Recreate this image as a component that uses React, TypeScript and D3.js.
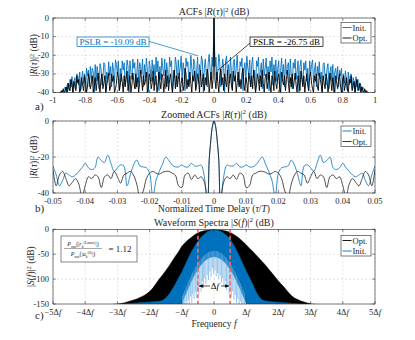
import React from "react";
import * as d3 from "d3";

const FONT = "'Liberation Serif', 'Times New Roman', serif";
const BLUE = "#0072BD";
const SPIKE_BLUE = "#6AAEE3";
const AXIS = "#262626";
const GRID = "#c8c8c8";
const RED = "#F26B6B";

// (a) ACF sidelobes (dB), one half of the symmetric ACF, tau = 0, 0.006, ... 0.96
const acfInit = [0,
  -26, -21, -33, -28, -19.5, -24, -37, -30, -22, -27, -40, -23, -20.5, -31, -25, -35,
  -21, -29, -38, -24, -22, -33, -27, -20, -31, -36, -23.5, -26, -21.5, -39, -28, -24,
  -34, -20.5, -27, -30, -22.5, -37, -25, -21, -32, -28, -40, -23, -26, -21, -35, -29,
  -24, -38, -22, -31, -27, -21.5, -33, -26, -39, -23, -29, -21, -36, -25, -30, -22.5,
  -34, -27, -23, -40, -28, -21.5, -32, -25, -37, -22, -30, -26, -24, -35, -22, -31,
  -38, -24, -27, -22, -33, -29, -23, -40, -26, -22.5, -31, -36, -24, -28, -23, -34,
  -27, -39, -23, -30, -25, -22.5, -35, -28, -24, -37, -26, -31, -23.5, -33, -29, -40,
  -25, -24, -32, -36, -27, -24.5, -38, -30, -26, -34, -25, -40, -29, -27, -33, -26,
  -37, -28, -31, -27, -40, -30, -35, -28.5, -33, -39, -29, -36, -31, -30, -38, -32,
  -34, -40, -31.5, -37, -33, -39, -35, -36, -40, -37, -38, -40, -39, -40, -40, -40];
const acfOpt = [0,
  -33, -38, -29, -35, -40, -31, -27.5, -36, -32, -39, -30, -34, -37, -28, -40, -33,
  -30, -36, -39, -28.5, -34, -31, -40, -35, -29, -37, -33, -38, -30, -27, -36, -39,
  -32, -35, -40, -29.5, -33, -37, -31, -38, -28, -34, -40, -36, -30, -33, -39, -31,
  -37, -28, -35, -40, -32, -30, -38, -34, -29, -36, -40, -31, -33, -39, -28.5, -35,
  -38, -32, -30, -37, -40, -29, -34, -36, -31, -39, -33, -28, -35, -40, -32, -37,
  -30, -38, -34, -29.5, -36, -40, -31, -35, -39, -28.5, -33, -37, -31, -40, -34, -30,
  -36, -39, -32, -29, -35, -38, -40, -31, -34, -30, -37, -39, -29.5, -33, -36, -40,
  -31, -35, -38, -30, -33, -40, -36, -29.5, -34, -39, -32, -37, -40, -31, -35, -38,
  -33, -30, -37, -40, -34, -31, -39, -36, -32, -38, -40, -33, -35, -31, -39, -37,
  -34, -40, -36, -33, -39, -38, -35, -40, -37, -39, -40, -38, -40, -39, -40, -40];
const acfTau = acfInit.map((_, i) => i * 0.006);

// (b) zoomed ACF (dB), one half, tau = 0 ... 0.05
const zoomTau = [0, 0.0005, 0.001, 0.0015, 0.002, ...d3.range(3, 51).map((k) => k / 1000)];
const zoomInit = [0, -3, -11, -22, -45,
  -31, -24.5, -25, -25, -23.5, -25.5, -25.5, -24.4, -25.5, -25.5, -24.4, -22, -20, -24, -28, -33,
  -42, -29, -26, -25.5, -25, -21.7, -24.5, -30, -36, -25, -24.4, -26, -28, -23.5, -19, -23,
  -22, -20, -26, -27, -26, -23.5, -26, -28, -30, -31, -30, -29, -33, -36, -30, -25];
const zoomOpt = [0, -3, -11, -22, -45,
  -34, -31, -32, -30, -32.5, -29, -30, -37, -36, -30, -29, -28, -28, -28.5, -29.5, -29,
  -28, -29, -32, -39, -42, -35, -30, -28, -29, -30, -34.5, -31, -28, -32, -30, -31,
  -37, -31, -30, -32, -31, -36, -42, -35, -32, -34, -36, -32, -28, -30, -36, -27];

// (c) spectra (dB), f = -3.2Δf ... 3.2Δf in steps of 0.1Δf
const freq = d3.range(65).map((i) => (i - 32) / 10);
const optUpper = [-151, -150.5, -150, -149, -148, -146, -144, -142, -140, -137, -134, -130, -125, -118, -109, -100,
  -92, -83, -74, -64, -54, -45, -34, -27, -21, -16, -11, -7, -4.5, -3, -2, -1,
  -0.5,
  -1, -1.5, -2.5, -4, -6, -10, -14, -19, -25, -31, -38, -44, -51, -58, -65, -72,
  -80, -88, -96, -104, -111, -118, -126, -133, -138, -141, -144, -146, -148, -149.5, -150.5, -151];
const optLower = [-152, -152, -152, -152, -152, -152, -152, -152, -152, -152, -152, -152, -152, -152, -152, -152,
  -152, -152, -152, -152, -152, -152, -135, -115, -97, -80, -62, -45, -36, -30, -25, -22,
  -20,
  -22, -25, -30, -36, -45, -62, -80, -97, -115, -135, -152, -152, -152, -152, -152, -152,
  -152, -152, -152, -152, -152, -152, -152, -152, -152, -152, -152, -152, -152, -152, -152, -152];
const initUpper = [-152, -151.5, -151, -150.5, -150, -149.5, -149, -148.5, -148, -147.5, -147, -146.5, -146, -145.5, -145, -144.5,
  -143, -138, -131, -121, -110, -98, -86, -72, -58, -45, -34, -24, -16, -10, -5, -2.5,
  -1.5,
  -2, -4, -8, -13, -20, -30, -42, -56, -70, -84, -97, -110, -125, -136, -142, -144,
  -145, -145.5, -146, -146.5, -147, -147.5, -148, -148.5, -149, -149.5, -150, -150.5, -151, -151.5, -152, -152];
const initLower = [-155, -155, -155, -155, -155, -155, -155, -155, -155, -155, -155, -155, -155, -155, -155, -155,
  -155, -155, -155, -155, -155, -155, -148, -133, -118, -104, -91, -80, -71, -64, -59, -56,
  -55,
  -56, -59, -64, -71, -80, -91, -104, -118, -133, -148, -155, -155, -155, -155, -155, -155,
  -155, -155, -155, -155, -155, -155, -155, -155, -155, -155, -155, -155, -155, -155, -155, -155];
// deep notches of the Init. spectrum
const spikeF = [-0.98, -0.95, -0.91, -0.87, -0.84, -0.8, -0.77, -0.73, -0.69, -0.66, -0.62, -0.58, -0.55, -0.51, -0.47,
  -0.44, -0.4, -0.36, -0.33, -0.29, -0.25, -0.21, -0.17, -0.13, -0.09, -0.05, -0.01, 0.03, 0.07, 0.11, 0.15, 0.19,
  0.23, 0.27, 0.31, 0.35, 0.39, 0.43, 0.47, 0.5, 0.54, 0.58, 0.62, 0.66, 0.7, 0.74, 0.78, 0.82, 0.86, 0.9, 0.94];
const spikeDb = [-150, -150, -150, -145, -150, -142, -150, -135, -148, -130, -140, -125, -138, -118, -130,
  -112, -125, -105, -118, -98, -110, -92, -102, -85, -96, -78, -90, -82, -95, -88, -100, -93,
  -108, -98, -115, -104, -122, -112, -130, -118, -136, -125, -142, -132, -148, -140, -150, -145, -150, -150, -150];

const ticksA = [-1, -0.8, -0.6, -0.4, -0.2, 0, 0.2, 0.4, 0.6, 0.8, 1];
const yTicksA = [-40, -30, -20, -10, 0];
const ticksB = [-0.05, -0.04, -0.03, -0.02, -0.01, 0, 0.01, 0.02, 0.03, 0.04, 0.05];
const yTicksB = [-40, -20, 0];
const ticksC = [-5, -4, -3, -2, -1, 0, 1, 2, 3, 4, 5];
const yTicksC = [-150, -100, -50, 0];

const mirror = (tau: number[], v: number[]) => {
  const pts: [number, number][] = [];
  for (let i = tau.length - 1; i > 0; i--) pts.push([-tau[i], v[i]]);
  for (let i = 0; i < tau.length; i++) pts.push([tau[i], v[i]]);
  return pts;
};

type Sc = d3.ScaleLinear<number, number>;

function Grid({ x, y, xt, yt }: { x: Sc; y: Sc; xt: number[]; yt: number[] }) {
  const [x0, x1] = x.range();
  const [yb, ytop] = y.range();
  return (
    <g stroke={GRID} strokeWidth={0.5} strokeDasharray="2,2">
      {xt.map((t) => <line key={"x" + t} x1={x(t)} x2={x(t)} y1={ytop} y2={yb} />)}
      {yt.map((t) => <line key={"y" + t} x1={x0} x2={x1} y1={y(t)} y2={y(t)} />)}
    </g>
  );
}

function Box({ x, y, xt, yt, xf, yf, dy = 10.5 }: {
  x: Sc; y: Sc; xt: number[]; yt: number[];
  xf: (v: number) => React.ReactNode; yf: (v: number) => React.ReactNode; dy?: number;
}) {
  const [x0, x1] = x.range();
  const [yb, ytop] = y.range();
  return (
    <g fill={AXIS}>
      <rect x={x0} y={ytop} width={x1 - x0} height={yb - ytop} fill="none" stroke={AXIS} strokeWidth={0.6} />
      {xt.map((t) => (
        <g key={"xt" + t}>
          <line x1={x(t)} x2={x(t)} y1={yb} y2={yb - 3} stroke={AXIS} strokeWidth={0.5} />
          <line x1={x(t)} x2={x(t)} y1={ytop} y2={ytop + 3} stroke={AXIS} strokeWidth={0.5} />
          <text x={x(t)} y={yb + dy} fontSize={8.5} textAnchor="middle">{xf(t)}</text>
        </g>
      ))}
      {yt.map((t) => (
        <g key={"yt" + t}>
          <line x1={x0} x2={x0 + 3} y1={y(t)} y2={y(t)} stroke={AXIS} strokeWidth={0.5} />
          <line x1={x1} x2={x1 - 3} y1={y(t)} y2={y(t)} stroke={AXIS} strokeWidth={0.5} />
          <text x={x0 - 4} y={y(t) + 2.5} fontSize={8.5} textAnchor="end">{yf(t)}</text>
        </g>
      ))}
    </g>
  );
}

function Legend({ x, y, items }: { x: number; y: number; items: { label: string; color: string }[] }) {
  return (
    <g fontSize={8.5}>
      <rect x={x} y={y} width={30} height={20.5} fill="white" stroke={AXIS} strokeWidth={0.6} />
      {items.map((it, i) => (
        <g key={it.label}>
          <line x1={x + 1.5} x2={x + 10.5} y1={y + 5 + i * 10.5} y2={y + 5 + i * 10.5} stroke={it.color} strokeWidth={0.9} />
          <text x={x + 11.5} y={y + 8 + i * 10.5} fill={AXIS}>{it.label}</text>
        </g>
      ))}
    </g>
  );
}

const R2 = (
  <>
    |<tspan fontStyle="italic">R</tspan>(<tspan fontStyle="italic">τ</tspan>)|<tspan dy={-3.5} fontSize="70%">2</tspan>
    <tspan dy={3.5}> (dB)</tspan>
  </>
);

const num = (v: number) => (v < 0 ? "-" : "") + Math.abs(v).toString();
const dfFmt = (v: number): React.ReactNode => {
  if (v === 0) return "0";
  const sign = v < 0 ? "\u2212" : "";
  const m = Math.abs(v);
  return (
    <>
      {sign}{m === 1 ? "" : m}Δ<tspan fontStyle="italic">f</tspan>
    </>
  );
};

export default function App() {
  const X0 = 53, X1 = 375;
  const xa = d3.scaleLinear().domain([-1, 1]).range([X0, X1]);
  const ya = d3.scaleLinear().domain([-40, 0]).range([92.5, 18]);
  const xb = d3.scaleLinear().domain([-0.05, 0.05]).range([X0, X1]);
  const yb = d3.scaleLinear().domain([-40, 0]).range([193, 121]);
  const xc = d3.scaleLinear().domain([-5, 5]).range([X0, X1]);
  const yc = d3.scaleLinear().domain([-150, 0]).range([304, 229.3]);

  const lineA = d3.line<[number, number]>().x((d) => xa(d[0])).y((d) => ya(d[1]));
  const lineB = d3.line<[number, number]>().x((d) => xb(d[0])).y((d) => yb(d[1])).curve(d3.curveCatmullRom.alpha(0.5));
  const bandC = (up: number[], lo: number[]) =>
    d3.area<number>().x((f) => xc(f)).y0((_, i) => yc(lo[i])).y1((_, i) => yc(up[i]))(freq) || "";
  const lowerInit = d3.scaleLinear().domain(freq).range(initLower);

  const clip = (id: string, x: Sc, y: Sc) => {
    const [x0, x1] = x.range();
    const [b, t] = y.range();
    return (
      <clipPath id={id}>
        <rect x={x0} y={t} width={x1 - x0} height={b - t} />
      </clipPath>
    );
  };

  return (
    <svg width={415} height={340} style={{ position: "absolute", left: 0, top: 0, background: "white", fontFamily: FONT }}>
      <defs>
        {clip("ca", xa, ya)}
        {clip("cb", xb, yb)}
        {clip("cc", xc, yc)}
      </defs>
      <rect width={415} height={340} fill="white" />

      {/* (a) */}
      <Grid x={xa} y={ya} xt={ticksA} yt={yTicksA} />
      <g clipPath="url(#ca)" fill="none" strokeWidth={0.9} strokeLinejoin="round">
        <path d={lineA(mirror(acfTau, acfInit)) || ""} stroke={BLUE} />
        <path d={lineA(mirror(acfTau, acfOpt)) || ""} stroke="#000" />
      </g>
      <Box x={xa} y={ya} xt={ticksA} yt={yTicksA} xf={num} yf={num} />
      <g fontSize={9}>
        <line x1={148} y1={41} x2={xa(-0.1)} y2={ya(-20.3)} stroke={BLUE} strokeWidth={0.7} />
        <rect x={77} y={37} width={72} height={9.5} fill="white" stroke={BLUE} strokeWidth={0.7} />
        <text x={113} y={45} textAnchor="middle" fill={BLUE}>PSLR = -19.09 dB</text>
        <line x1={250} y1={43} x2={xa(0.025)} y2={ya(-28)} stroke="#000" strokeWidth={0.7} />
        <rect x={250} y={37} width={73} height={9.5} fill="white" stroke="#000" strokeWidth={0.7} />
        <text x={286.5} y={45} textAnchor="middle" fill="#000">PSLR = -26.75 dB</text>
      </g>
      <Legend x={341} y={22.5} items={[{ label: "Init.", color: BLUE }, { label: "Opt.", color: "#000" }]} />
      <g fill={AXIS}>
        <text x={214} y={15} fontSize={10} textAnchor="middle">ACFs {R2}</text>
        <text transform={`translate(37,${(ya.range()[0] + ya.range()[1]) / 2}) rotate(-90)`} fontSize={9.5} textAnchor="middle">{R2}</text>
        <text x={35} y={110} fontSize={11}>a)</text>
      </g>

      {/* (b) */}
      <Grid x={xb} y={yb} xt={ticksB} yt={yTicksB} />
      <g clipPath="url(#cb)" fill="none" strokeWidth={0.8}>
        <path d={lineB(mirror(zoomTau, zoomInit)) || ""} stroke={BLUE} />
        <path d={lineB(mirror(zoomTau, zoomOpt)) || ""} stroke="#222" />
      </g>
      <Box x={xb} y={yb} xt={ticksB} yt={yTicksB} xf={num} yf={num} />
      <Legend x={341} y={126} items={[{ label: "Init.", color: BLUE }, { label: "Opt.", color: "#222" }]} />
      <g fill={AXIS}>
        <text x={214} y={117.5} fontSize={10} textAnchor="middle">Zoomed ACFs {R2}</text>
        <text transform={`translate(37,${(yb.range()[0] + yb.range()[1]) / 2}) rotate(-90)`} fontSize={9.5} textAnchor="middle">{R2}</text>
        <text x={214} y={212} fontSize={9.5} textAnchor="middle">
          Normalized Time Delay (<tspan fontStyle="italic">τ</tspan>/<tspan fontStyle="italic">T</tspan>)
        </text>
        <text x={35} y={212} fontSize={11}>b)</text>
      </g>

      {/* (c) */}
      <Grid x={xc} y={yc} xt={ticksC} yt={yTicksC} />
      <g clipPath="url(#cc)">
        <path d={bandC(optUpper, optLower)} fill="#000" stroke="#000" strokeWidth={0.5} />
        <path d={bandC(initUpper, initLower)} fill={BLUE} stroke={BLUE} strokeWidth={0.5} />
        {spikeF.map((f, i) => (
          <line key={i} x1={xc(f)} x2={xc(f)} y1={yc(lowerInit(f)) - 6} y2={yc(spikeDb[i])} stroke={SPIKE_BLUE} strokeWidth={0.7} />
        ))}
        {[-0.5, 0.5].map((f) => (
          <line key={f} x1={xc(f)} x2={xc(f)} y1={yc(0)} y2={yc(-150)} stroke={RED} strokeWidth={1.8} strokeDasharray="4,2.5" opacity={0.9} />
        ))}
      </g>
      <Box x={xc} y={yc} xt={ticksC} yt={yTicksC} xf={dfFmt} yf={num} dy={11} />
      <g stroke="#000" strokeWidth={0.7} fill="#000">
        <line x1={xc(-0.12)} x2={xc(-0.47)} y1={286} y2={286} />
        <path d={`M${xc(-0.47)},286 l4,-1.8 v3.6 z`} stroke="none" />
        <line x1={xc(0.22)} x2={xc(0.47)} y1={286} y2={286} />
        <path d={`M${xc(0.47)},286 l-4,-1.8 v3.6 z`} stroke="none" />
      </g>
      <text x={xc(0.03)} y={289} fontSize={9} textAnchor="middle" fill="#000">
        Δ<tspan fontStyle="italic">f</tspan>
      </text>
      <g fill={AXIS}>
        <rect x={61} y={236} width={76} height={26} fill="white" stroke="#555" strokeWidth={0.7} />
        <text x={83} y={246} fontSize={6} textAnchor="middle">
          <tspan fontStyle="italic">P</tspan><tspan dy={1.5} fontSize={4}>out</tspan>
          <tspan dy={-1.5}>(|</tspan><tspan fontStyle="italic">r</tspan><tspan dy={1.5} fontSize={4} fontStyle="italic">k</tspan>
          <tspan dy={-4} fontSize={4}>(Lmax)</tspan><tspan dy={2.5}>|)</tspan>
        </text>
        <line x1={64} x2={102} y1={248.5} y2={248.5} stroke={AXIS} strokeWidth={0.4} />
        <text x={83} y={256} fontSize={6} textAnchor="middle">
          <tspan fontStyle="italic">P</tspan><tspan dy={1.5} fontSize={4}>out</tspan>
          <tspan dy={-1.5}>(|</tspan><tspan fontStyle="italic">a</tspan><tspan dy={1.5} fontSize={4} fontStyle="italic">k</tspan>
          <tspan dy={-4} fontSize={4}>(0)</tspan><tspan dy={2.5}>|)</tspan>
        </text>
        <text x={120} y={252} fontSize={9} textAnchor="middle">= 1.12</text>
      </g>
      <Legend x={341} y={235.5} items={[{ label: "Opt.", color: "#000" }, { label: "Init.", color: BLUE }]} />
      <g fill={AXIS}>
        <text x={214} y={225.5} fontSize={10} textAnchor="middle">
          Waveform Spectra |<tspan fontStyle="italic">S</tspan>(<tspan fontStyle="italic">f</tspan>)|
          <tspan dy={-3.5} fontSize="70%">2</tspan><tspan dy={3.5}> (dB)</tspan>
        </text>
        <text transform={`translate(34,${(yc.range()[0] + yc.range()[1]) / 2}) rotate(-90)`} fontSize={9.5} textAnchor="middle">
          |<tspan fontStyle="italic">S</tspan>(<tspan fontStyle="italic">f</tspan>)|<tspan dy={-3.5} fontSize="70%">2</tspan>
          <tspan dy={3.5}> (dB)</tspan>
        </text>
        <text x={214} y={327} fontSize={9.5} textAnchor="middle">
          Frequency <tspan fontStyle="italic">f</tspan>
        </text>
        <text x={35} y={319} fontSize={11}>c)</text>
      </g>
    </svg>
  );
}
